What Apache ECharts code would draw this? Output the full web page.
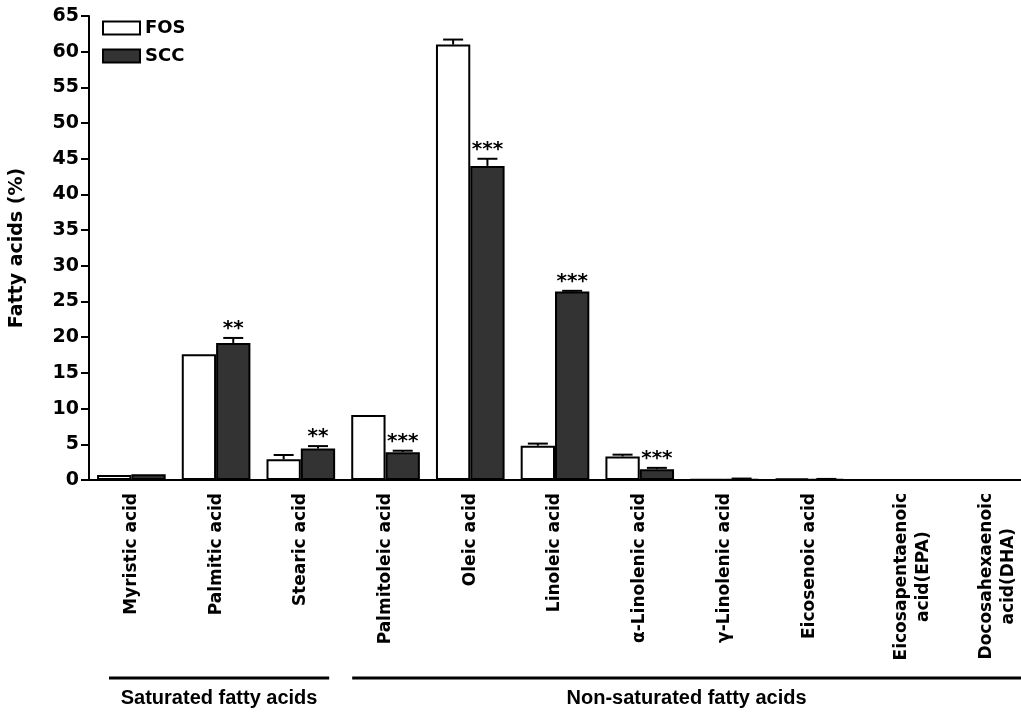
<!DOCTYPE html>
<html>
<head>
<meta charset="utf-8">
<script src="https://cdn.jsdelivr.net/npm/echarts@6/dist/echarts.min.js"></script>
<style>
  html, body { margin: 0; padding: 0; background: #fff; }
  #chart { width: 1021px; height: 712px; }
</style>
</head>
<body>
<div id="chart"></div>
<script>
// fatty acid profile, FOS vs SCC
var categories = [
  'Myristic acid', 'Palmitic acid', 'Stearic acid', 'Palmitoleic acid', 'Oleic acid',
  'Linoleic acid', 'α-Linolenic acid', 'γ-Linolenic acid', 'Eicosenoic acid',
  'Eicosapentaenoic\nacid(EPA)', 'Docosahexaenoic\nacid(DHA)'
];
var fosValues = [0.7, 17.6, 2.9, 9.1, 61.0, 4.8, 3.3, 0.05, 0.2, 0, 0];
var fosErr    = [0, 0, 0.6, 0, 0.7, 0.3, 0.25, 0, 0, 0, 0];
var sccValues = [0.8, 19.2, 4.4, 3.9, 44.0, 26.4, 1.5, 0.05, 0.05, 0, 0];
var sccErr    = [0, 0.7, 0.35, 0.2, 1.0, 0.1, 0.2, 0.15, 0.1, 0, 0];
var sccStars  = ['', '**', '**', '***', '***', '***', '***', '', '', '', ''];
var groupNames = ['Saturated fatty acids', 'Non-saturated fatty acids'];
var groupSpans = [[0, 2], [3, 10]];

var catGap = 0.19;
var font = 'DejaVu Sans';

function errorBars(side, stars) {
  return function (params, api) {
    var i = api.value(0), v = api.value(1), e = api.value(2);
    var catW = api.size([1, 0])[0];
    var barW = catW * (1 - catGap) / 2;
    var base = api.coord([i, v]);
    var top = api.coord([i, v + e]);
    var x = base[0] + side * barW / 2;
    var kids = [];
    if (e > 0) {
      kids.push({ type: 'line', shape: { x1: x, y1: base[1], x2: x, y2: top[1] },
        style: { stroke: '#000', lineWidth: 2 } });
      kids.push({ type: 'line', shape: { x1: x - 10, y1: top[1], x2: x + 10, y2: top[1] },
        style: { stroke: '#000', lineWidth: 2 } });
    }
    if (stars && stars[params.dataIndex]) {
      kids.push({ type: 'text', x: x, y: top[1] + 1,
        style: { text: stars[params.dataIndex], fill: '#000', align: 'center', verticalAlign: 'bottom',
          font: 'bold 20px "' + font + '"' } });
    }
    return { type: 'group', children: kids };
  };
}

var myChart = echarts.init(document.getElementById('chart'));

var option = {
  animation: false,
  backgroundColor: '#fff',
  grid: { left: 87, top: 16, width: 944, height: 464 },
  legend: {
    data: ['FOS', 'SCC'],
    orient: 'vertical',
    left: 102,
    top: 19,
    padding: 0,
    itemWidth: 37,
    itemHeight: 13,
    itemGap: 10,
    icon: 'rect',
    textStyle: { fontFamily: font, fontWeight: 'bold', fontSize: 18, color: '#000' }
  },
  xAxis: {
    type: 'category',
    data: categories,
    axisLine: { lineStyle: { color: '#000', width: 2 } },
    axisTick: { alignWithLabel: true, length: 8, lineStyle: { color: '#000', width: 2 } },
    axisLabel: {
      interval: 0,
      rotate: 90,
      margin: 13,
      color: '#000',
      fontFamily: font,
      fontWeight: 'bold',
      fontSize: 17,
      formatter: function (v) {
        if (v.indexOf('\n') < 0) return v;
        var parts = v.split('\n');
        // blank first line keeps the main word on its tick
        return '{b| }\n{c|' + parts[0] + '}\n{c|' + parts[1] + '}';
      },
      rich: {
        b: { fontSize: 17, lineHeight: 38 },
        c: { align: 'center', fontFamily: font, fontWeight: 'bold', fontSize: 17, color: '#000', lineHeight: 22 }
      }
    }
  },
  yAxis: {
    type: 'value',
    min: 0,
    max: 65,
    interval: 5,
    name: 'Fatty acids (%)',
    nameLocation: 'middle',
    nameGap: 62,
    nameTextStyle: { fontFamily: font, fontWeight: 'bold', fontSize: 19, color: '#000' },
    splitLine: { show: false },
    axisLine: { show: true, lineStyle: { color: '#000', width: 2 } },
    axisTick: { show: true, length: 8, lineStyle: { color: '#000', width: 2 } },
    axisLabel: { margin: 10, color: '#000', fontFamily: font, fontWeight: 'bold', fontSize: 19 }
  },
  series: [
    {
      name: 'FOS',
      type: 'bar',
      data: fosValues,
      barGap: '0%',
      barCategoryGap: (catGap * 100) + '%',
      itemStyle: { color: '#fff', borderColor: '#000', borderWidth: 2 }
    },
    {
      name: 'SCC',
      type: 'bar',
      data: sccValues,
      barGap: '0%',
      barCategoryGap: (catGap * 100) + '%',
      itemStyle: { color: '#333333', borderColor: '#000', borderWidth: 2 }
    },
    {
      name: 'FOS err',
      type: 'custom',
      renderItem: errorBars(-1, null),
      data: fosValues.map(function (v, i) { return [i, v, fosErr[i]]; }),
      z: 3
    },
    {
      name: 'SCC err',
      type: 'custom',
      renderItem: errorBars(1, sccStars),
      data: sccValues.map(function (v, i) { return [i, v, sccErr[i]]; }),
      z: 3
    }
  ]
};
myChart.setOption(option);

// group brackets under the category labels
var insets = [[20, -14], [9, 0]];
var graphics = [];
var chartW = myChart.getWidth();
groupSpans.forEach(function (span, g) {
  var c0 = myChart.convertToPixel({ xAxisIndex: 0 }, span[0]);
  var c1 = myChart.convertToPixel({ xAxisIndex: 0 }, span[1]);
  var half = (myChart.convertToPixel({ xAxisIndex: 0 }, 1) - myChart.convertToPixel({ xAxisIndex: 0 }, 0)) / 2;
  var x0 = c0 - half + insets[g][0];
  var x1 = c1 + half + insets[g][1];
  var mid = (x0 + Math.min(x1, chartW)) / 2;
  graphics.push({ type: 'line', shape: { x1: x0, y1: 678, x2: x1, y2: 678 },
    style: { stroke: '#000', lineWidth: 3 } });
  graphics.push({ type: 'text', x: mid, y: 698,
    style: { text: groupNames[g], fill: '#000', align: 'center', verticalAlign: 'middle',
      font: 'bold 20px "Liberation Sans"' } });
});
myChart.setOption({ graphic: graphics });
</script>
</body>
</html>
